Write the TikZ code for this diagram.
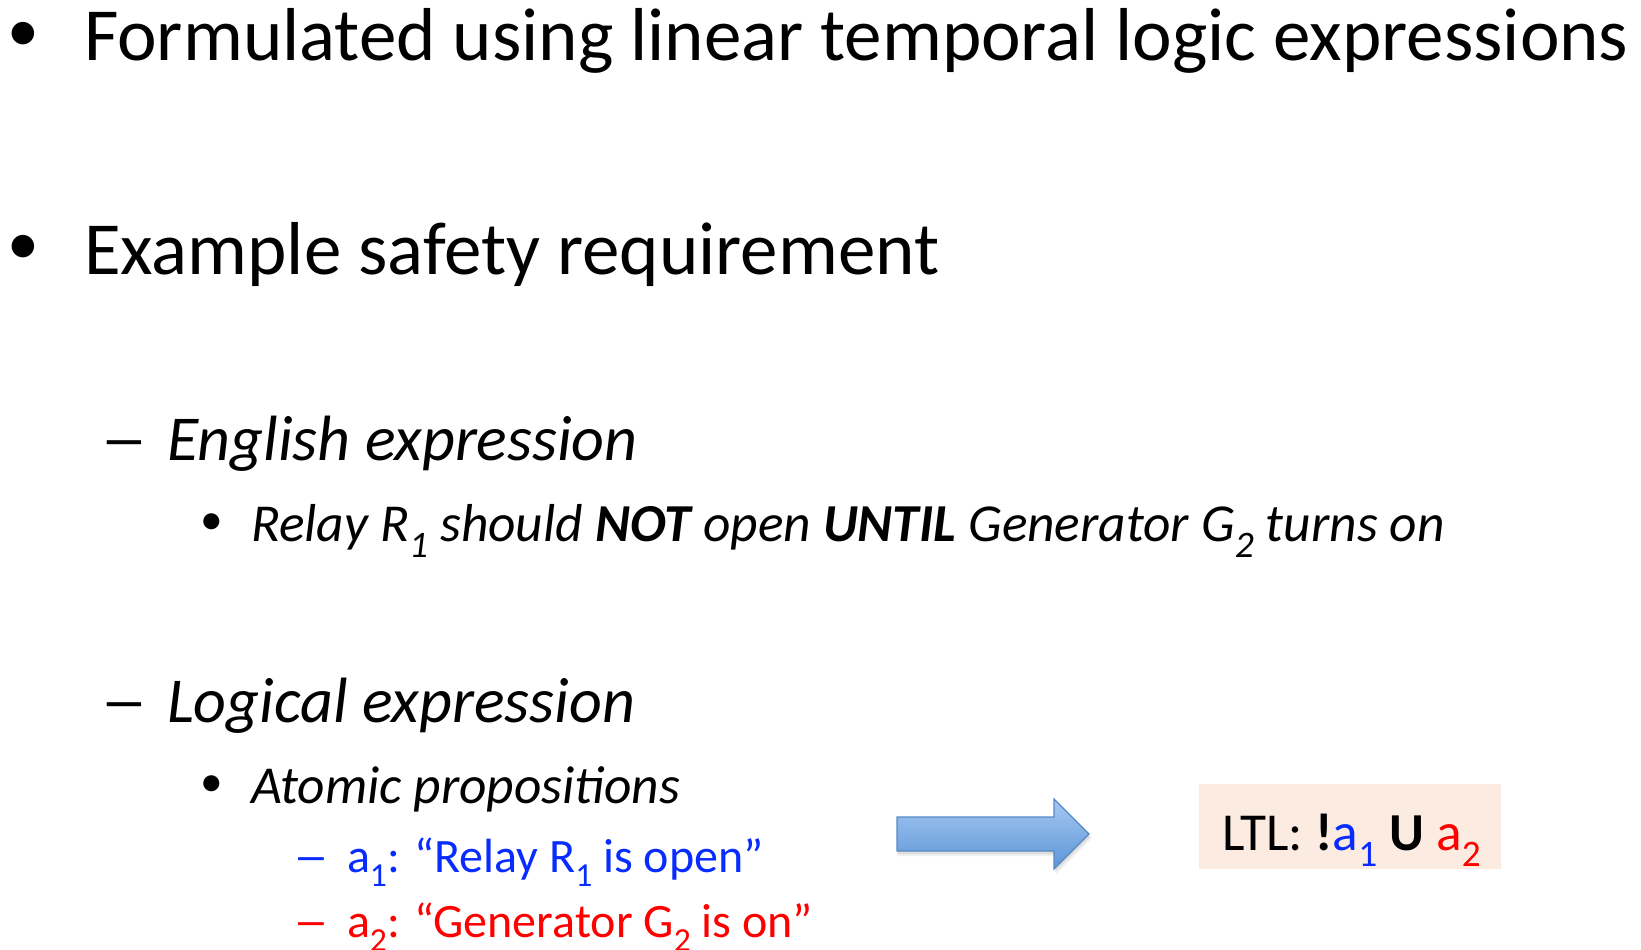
\documentclass[tikz,border=0pt]{standalone}
\usepackage{fontspec}
\setmainfont{Carlito}
\definecolor{propblue}{RGB}{8,44,255}
\definecolor{propred}{RGB}{255,0,0}
\definecolor{ltlfill}{RGB}{252,235,224}
\definecolor{arrowtop}{RGB}{166,200,242}
\definecolor{arrowbot}{RGB}{92,150,215}
\definecolor{arrowedge}{RGB}{86,136,196}
\newcommand\sbs[1]{\raisebox{-0.3em}{\scalebox{0.7}{#1}}}
\newcommand\bulletglyph{\raisebox{0.13em}{\scalebox{0.85}{•}}}
\newcommand\dashglyph{\scalebox{1.5}[1]{–}}
\begin{document}
\begin{tikzpicture}[x=1pt,y=-1pt,
  txt/.style={anchor=base west,inner sep=0pt,outer sep=0pt},
  bul/.style={anchor=base,inner sep=0pt,outer sep=0pt},
  lvlA/.style={font=\fontsize{75}{88}\selectfont},
  lvlB/.style={font=\fontsize{64}{76}\selectfont\itshape},
  lvlBup/.style={font=\fontsize{64}{76}\selectfont},
  lvlC/.style={font=\fontsize{53.4}{64}\selectfont\itshape},
  lvlCup/.style={font=\fontsize{53.4}{64}\selectfont},
  lvlD/.style={font=\fontsize{48}{58}\selectfont}]
\useasboundingbox (0,0) rectangle (1641,950);

% first level
\node[bul,lvlA] (b1) at (23,61) {\bulletglyph};
\node[txt,lvlA] (t1) at (84,61) {Formulated using linear temporal logic expressions};
\node[bul,lvlA] (b2) at (23,274) {\bulletglyph};
\node[txt,lvlA] (t2) at (84,274) {Example safety requirement};

% second level
\node[bul,lvlBup] (d1) at (124,460) {\dashglyph};
\node[txt,lvlB] (t3) at (167,460) {English expression};
\node[bul,lvlBup] (d2) at (124,722) {\dashglyph};
\node[txt,lvlB] (t5) at (167,722) {Logical expression};

% third level
\node[bul,lvlCup] (b3) at (212,541) {\bulletglyph};
\node[txt,lvlC] (t4) at (251,541) {Relay R\sbs{1} should \textbf{NOT} open \textbf{UNTIL} Generator G\sbs{2} turns on};
\node[bul,lvlCup] (b4) at (212,803) {\bulletglyph};
\node[txt,lvlC] (t6) at (251,803) {Atomic propositions};

% fourth level
\node[bul,lvlD,text=propblue] (d3) at (311,872) {\dashglyph};
\node[txt,lvlD,text=propblue] (a1) at (347,872) {a\sbs{1}: “Relay R\sbs{1} is open”};
\node[bul,lvlD,text=propred] (d4) at (311,937) {\dashglyph};
\node[txt,lvlD,text=propred] (a2) at (347,937) {a\sbs{2}: “Generator G\sbs{2} is on”};

% block arrow with soft shadow
\fill[black,opacity=0.06] (897,820) -- (1056,820) -- (1056,804) -- (1092,838) -- (1056,874) -- (1056,856) -- (897,856) -- cycle;
\fill[black,opacity=0.08] (898,819) -- (1055,819) -- (1055,803) -- (1090,837) -- (1055,872) -- (1055,854) -- (898,854) -- cycle;
\draw[arrowedge,line width=1.1pt,top color=arrowtop,bottom color=arrowbot]
  (897,817) -- (1054,817) -- (1054,799) -- (1089,834) -- (1054,869) -- (1054,851) -- (897,851) -- cycle;

% LTL formula box
\node[fill=ltlfill,minimum width=302pt,minimum height=85pt,inner sep=0pt] (ltl) at (1350,826.5) {};
\node[txt,font=\fontsize{53.4}{64}\selectfont] (f) at (1222,850)
  {LTL: \textbf{!}\textcolor{propblue}{a\sbs{1}} \textbf{U} \textcolor{propred}{a\sbs{2}}};
\end{tikzpicture}
\end{document}
